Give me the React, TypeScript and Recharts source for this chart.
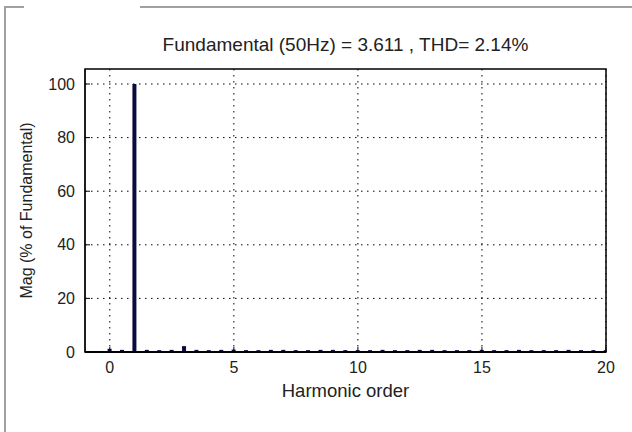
import React from 'react';
import {
  BarChart,
  Bar,
  XAxis,
  YAxis,
  CartesianGrid,
  ReferenceArea,
} from 'recharts';

// harmonic spectrum, % of fundamental
const harmonicOrder = [
  0, 0.5, 1, 1.5, 2, 2.5, 3, 3.5, 4, 4.5, 5, 5.5, 6, 6.5, 7, 7.5, 8, 8.5, 9, 9.5, 10,
  10.5, 11, 11.5, 12, 12.5, 13, 13.5, 14, 14.5, 15, 15.5, 16, 16.5, 17, 17.5, 18, 18.5,
  19, 19.5, 20,
];
const magnitude = [
  1.2, 0.8, 100, 0.8, 0.7, 0.8, 2.2, 0.8, 0.7, 0.8, 0.9, 0.7, 0.7, 0.8, 0.8, 0.7, 0.7,
  0.8, 0.8, 0.7, 0.7, 0.7, 0.8, 0.7, 0.7, 0.8, 0.8, 0.7, 0.7, 0.7, 0.8, 0.7, 0.7, 0.8,
  0.7, 0.7, 0.7, 0.8, 0.7, 0.7, 0.7,
];
const xTicks = [0, 5, 10, 15, 20];
const yTicks = [0, 20, 40, 60, 80, 100];

const data = harmonicOrder.map((h, i) => ({ h, mag: magnitude[i] }));

const font = '"Liberation Sans", Arial, sans-serif';
const tickStyle = { fontSize: 16, fill: '#222', fontFamily: font };
const frame = '#a0a0a0';

const YLabel = ({ viewBox }: any) => {
  const cx = viewBox.x + 11;
  const cy = viewBox.y + viewBox.height / 2;
  return (
    <text
      x={cx}
      y={cy}
      transform={`rotate(-90, ${cx}, ${cy})`}
      textAnchor="middle"
      dominantBaseline="central"
      fontSize={16}
      fontFamily={font}
      fill="#222"
    >
      Mag (% of Fundamental)
    </text>
  );
};

export default function App() {
  return (
    <div
      style={{
        position: 'absolute',
        left: 0,
        top: 0,
        width: 632,
        height: 432,
        background: '#fff',
        overflow: 'hidden',
      }}
    >
      {/* group box frame, open at the top between 24 and 140 */}
      <div
        style={{
          position: 'absolute',
          left: 4,
          top: 6,
          width: 640,
          height: 440,
          borderLeft: `2px solid ${frame}`,
          borderTop: `2px solid ${frame}`,
          boxSizing: 'border-box',
        }}
      />
      <div style={{ position: 'absolute', left: 24, top: 4, width: 116, height: 6, background: '#fff' }} />
      <div style={{ position: 'absolute', left: 0, top: 0, width: 632, height: 432 }}>
        <BarChart
          width={632}
          height={432}
          data={data}
          margin={{ top: 69, right: 26, bottom: 35, left: 15 }}
          barSize={4}
        >
          <CartesianGrid
            stroke="#000"
            strokeDasharray="1.5 4.5"
            horizontalValues={yTicks}
            verticalValues={xTicks}
          />
          <XAxis
            dataKey="h"
            type="number"
            domain={[-1, 20]}
            ticks={xTicks}
            allowDataOverflow
            height={45}
            axisLine={{ stroke: '#000', strokeWidth: 2 }}
            tickLine={{ stroke: '#000' }}
            tickSize={-5}
            tickMargin={15}
            tick={tickStyle}
            label={{
              value: 'Harmonic order',
              position: 'insideBottom',
              offset: 0,
              fontSize: 18.5,
              fontFamily: font,
              fill: '#222',
            }}
          />
          <XAxis
            xAxisId="top"
            dataKey="h"
            type="number"
            orientation="top"
            domain={[-1, 20]}
            ticks={xTicks}
            allowDataOverflow
            height={0}
            axisLine={false}
            tickLine={{ stroke: '#000' }}
            tickSize={-5}
            tickFormatter={() => ''}
          />
          <YAxis
            type="number"
            domain={[0, 105.6]}
            ticks={yTicks}
            allowDataOverflow
            width={70}
            axisLine={{ stroke: '#000' }}
            tickLine={{ stroke: '#000' }}
            tickSize={-5}
            tickMargin={15}
            tick={tickStyle}
            label={<YLabel />}
          />
          <YAxis
            yAxisId="right"
            type="number"
            orientation="right"
            domain={[0, 105.6]}
            ticks={yTicks}
            allowDataOverflow
            width={0}
            axisLine={false}
            tickLine={{ stroke: '#000' }}
            tickSize={-5}
            tickFormatter={() => ''}
          />
          <ReferenceArea
            x1={-1}
            x2={20}
            y1={0}
            y2={105.6}
            fill="none"
            stroke="#000"
            strokeWidth={1.5}
            ifOverflow="visible"
          />
          <Bar dataKey="mag" fill="#0b0b3d" isAnimationActive={false} />
        </BarChart>
      </div>
      <div
        style={{
          position: 'absolute',
          left: 85,
          width: 521,
          top: 34,
          textAlign: 'center',
          fontFamily: font,
          fontSize: 19,
          color: '#222',
        }}
      >
        Fundamental (50Hz) = 3.611 , THD= 2.14%
      </div>
    </div>
  );
}
